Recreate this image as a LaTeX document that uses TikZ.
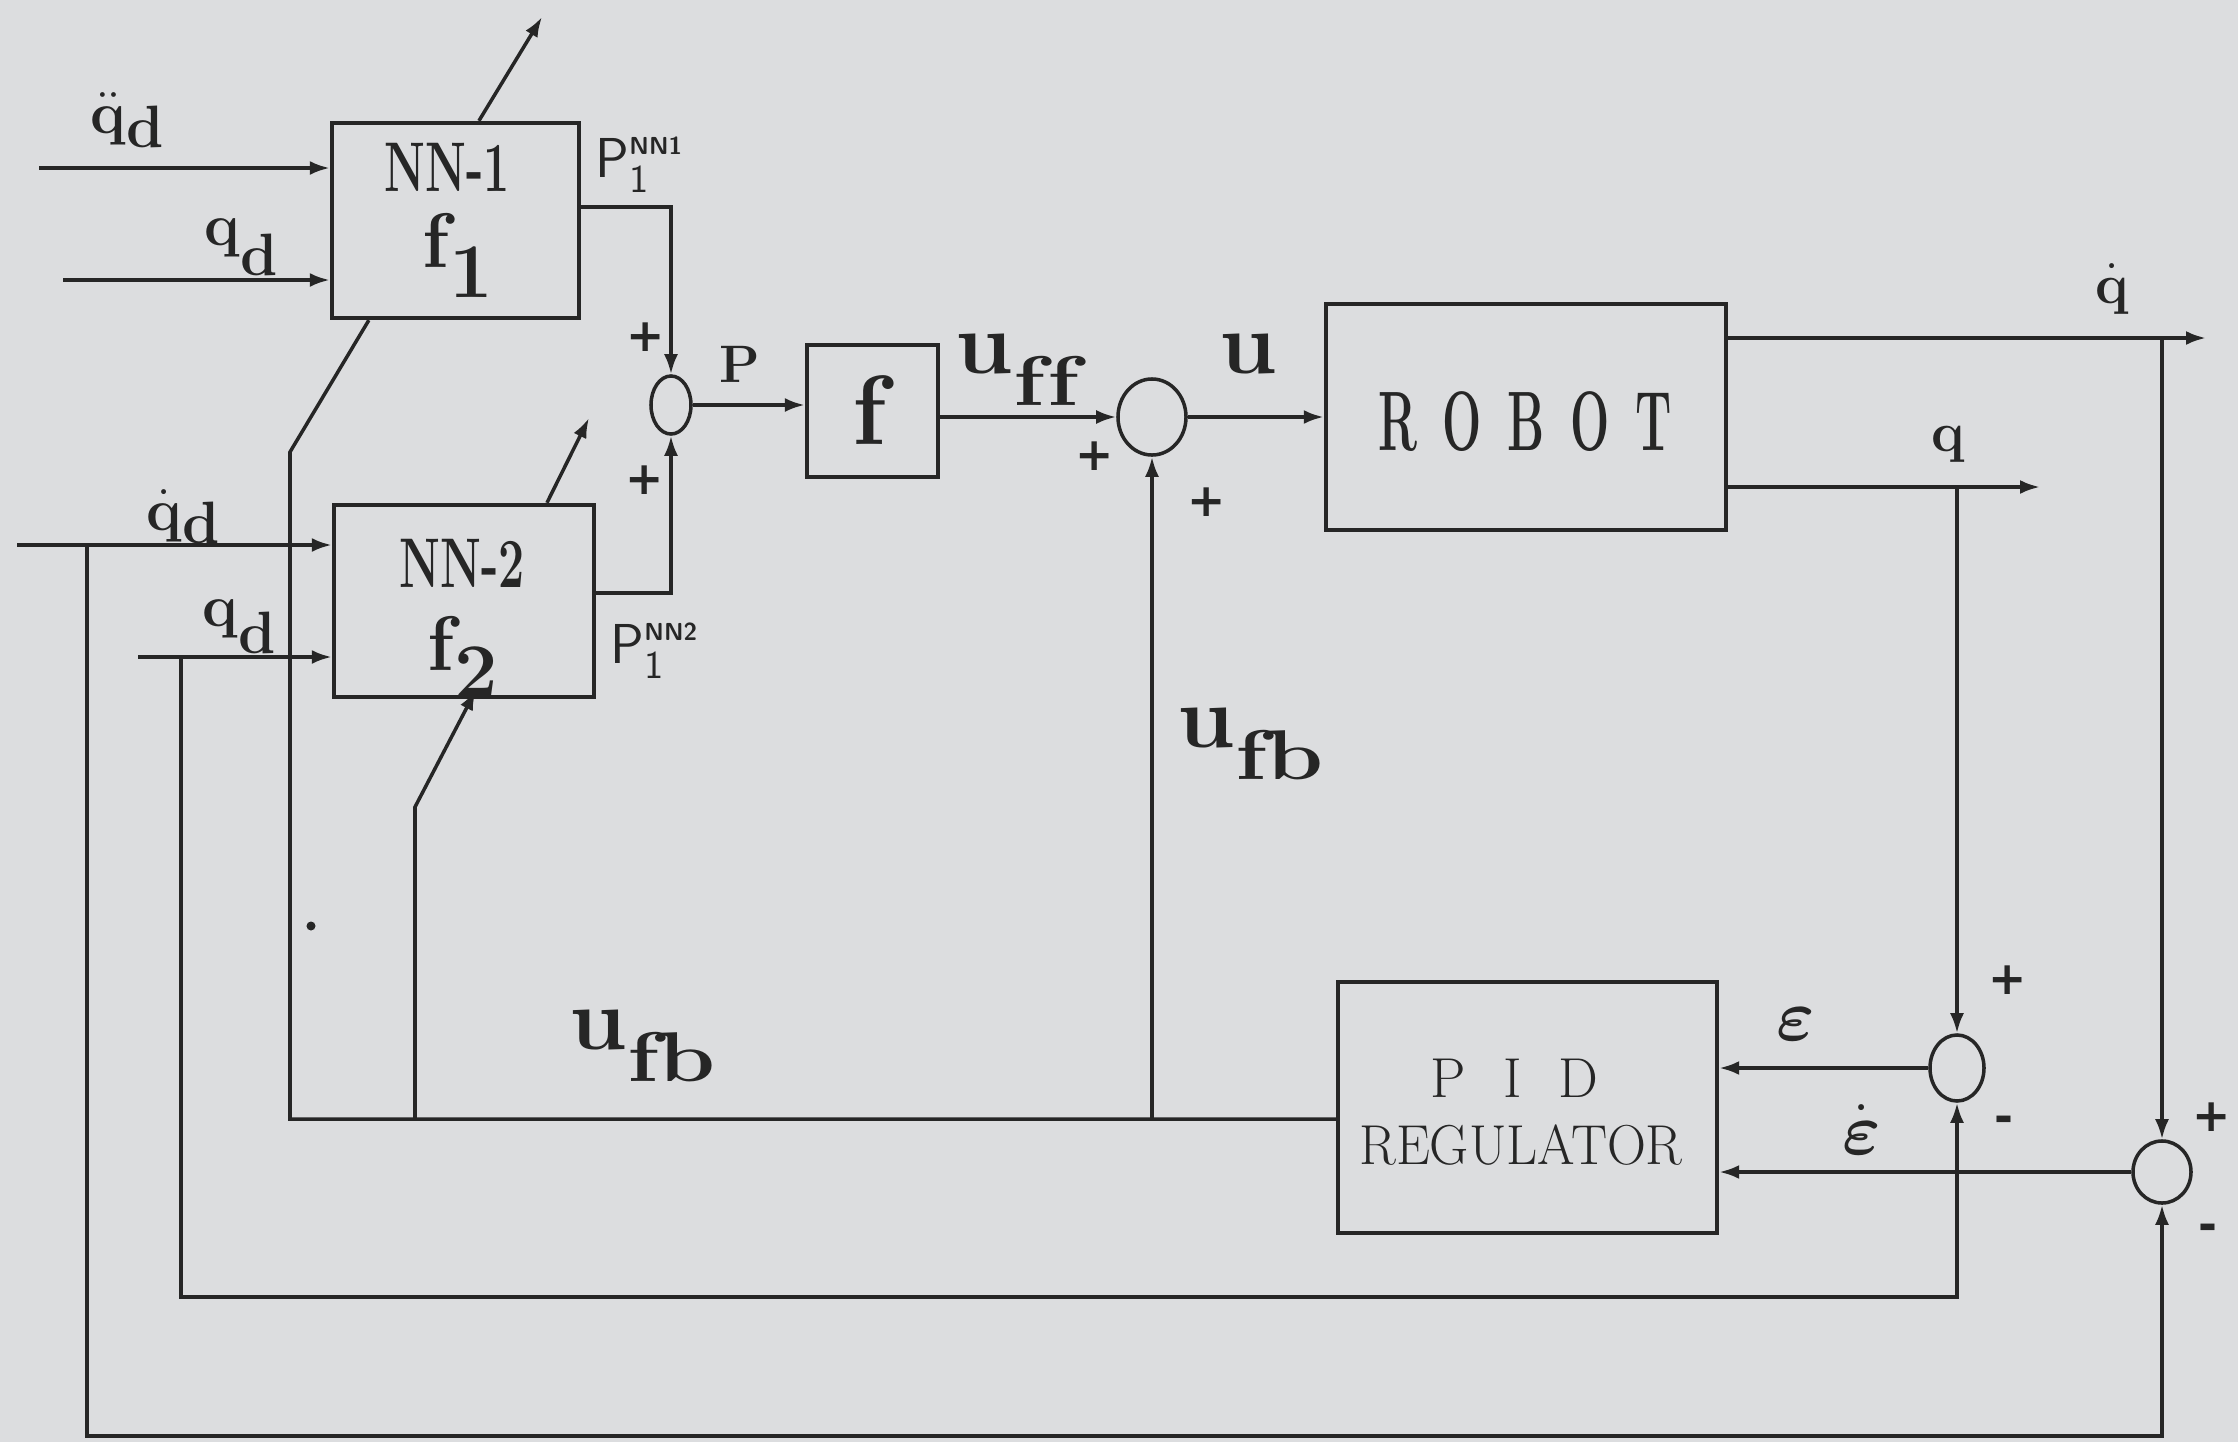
\documentclass[tikz,border=0pt]{standalone}
\usepackage{fontspec}
\usepackage{amsmath}
\usetikzlibrary{shapes.geometric,arrows.meta,calc}
\newfontfamily\djv{DejaVu Sans}
\newcommand{\fsz}[1]{\fontsize{#1}{#1}\selectfont}
\newcommand{\robl}[1]{\makebox[0.64cm]{\scalebox{0.55}[1]{#1}}}
\newcommand{\ulab}[1]{{\fsz{25pt}\scalebox{1.05}[1]{u}}\raisebox{-0.32cm}{\fsz{20pt}\scalebox{1.3}[1]{#1}}}
\definecolor{bg}{RGB}{220,221,223}
\definecolor{ink}{RGB}{38,38,38}
\begin{document}
\begin{tikzpicture}[x=0.01cm,y=-0.01cm,
  line/.style={draw=ink, line width=1pt},
  arr/.style={line, -{Latex[length=0.2cm,width=0.14cm]}},
  blk/.style={draw=ink, line width=1.2pt, rectangle, inner sep=0pt},
  sumj/.style={draw=ink, line width=1pt, ellipse, inner sep=0pt},
  lbl/.style={text=ink, inner sep=0pt},
  qlab/.style={lbl, font=\bfseries\fsz{17pt}},
  ulbl/.style={lbl, font=\bfseries, anchor=base west},
  sgn/.style={lbl, font=\djv\bfseries\fsz{13pt}}]
\fill[bg] (0,0) rectangle (2238,1442);
\useasboundingbox (0,0) rectangle (2238,1442);

% blocks
\node[blk, minimum width=2.47cm, minimum height=1.95cm] (nn1) at (455.5,220.5) {};
\node[blk, minimum width=2.60cm, minimum height=1.92cm] (nn2) at (464,601) {};
\node[blk, minimum width=1.31cm, minimum height=1.32cm] (fbox) at (872.5,411) {};
\node[blk, minimum width=4.00cm, minimum height=2.26cm] (robot) at (1526,417) {};
\node[blk, minimum width=3.79cm, minimum height=2.51cm] (pid) at (1527.5,1107.5) {};

% summing junctions
\node[sumj, minimum width=0.40cm, minimum height=0.58cm] (j1) at (671,405) {};
\node[sumj, minimum width=0.68cm, minimum height=0.76cm] (j2) at (1152,417) {};
\node[sumj, minimum width=0.54cm, minimum height=0.66cm] (j3) at (1957,1068) {};
\node[sumj, minimum width=0.58cm, minimum height=0.62cm] (j4) at (2162,1172) {};

% block texts
\node[lbl, font=\fsz{20pt}\bfseries] (nn1t) at (447,167) {\scalebox{0.66}[1]{NN-1}};
\node[lbl, font=\fsz{22pt}\bfseries, anchor=base west] (nn1f) at (422,267) {f\raisebox{-0.3cm}{1}};
\node[lbl, font=\fsz{20pt}\bfseries] (nn2t) at (462,563) {\scalebox{0.66}[1]{NN-2}};
\node[lbl, font=\fsz{22pt}\bfseries, anchor=base west] (nn2f) at (427,670) {f\raisebox{-0.27cm}{2}};
\node[lbl, font=\fsz{28pt}\bfseries] (ft) at (869,410) {f};
\node[lbl, font=\fsz{24pt}\bfseries] (robt) at (1526,422) {\robl{R}\robl{O}\robl{B}\robl{O}\robl{T}};
\node[lbl, font=\fsz{16pt}] (pidt) at (1513,1078) {\makebox[0.65cm]{P}\makebox[0.65cm]{I}\makebox[0.65cm]{D}};
\node[lbl, font=\fsz{16pt}] (regt) at (1521,1145) {\scalebox{0.96}[1]{REGULATOR}};

% inputs
\coordinate (in1) at (39,168);
\coordinate (in2) at (63,280);
\coordinate (in3) at (17,545);
\coordinate (in4) at (138,657);
\draw[arr] (in1) -- (in1 -| nn1.west);
\draw[arr] (in2) -- (in2 -| nn1.west);
\draw[arr] (in3) -- (in3 -| nn2.west);
\draw[arr] (in4) -- (in4 -| nn2.west);

% NN outputs to first junction
\coordinate (o1) at (579,207);
\coordinate (o2) at (594,593);
\draw[arr] (nn1.east |- o1) -| (j1.north);
\draw[arr] (nn2.east |- o2) -| (j1.south);

% forward path
\draw[arr] (j1.east) -- (j1.east -| fbox.west);
\draw[arr] (fbox.east |- j2.west) -- (j2.west);
\draw[arr] (j2.east) -- (j2.east -| robot.west);

% robot outputs
\coordinate (qdotend) at (2206,338);
\coordinate (qend) at (2040,487);
\draw[arr] (robot.east |- qdotend) -- (qdotend);
\draw[arr] (robot.east |- qend) -- (qend);
\draw[arr] (j3.north |- qend) -- (j3.north);
\draw[arr] (j4.north |- qdotend) -- (j4.north);

% errors to PID
\draw[arr] (j3.west) -- (j3.west -| pid.east);
\draw[arr] (j4.west) -- (j4.west -| pid.east);

% desired signals fed back
\coordinate (b1) at (181,657);
\coordinate (b1d) at (181,1297);
\draw[arr] (b1) -- (b1d) -| (j3.south);
\coordinate (b2) at (87,545);
\coordinate (b2d) at (87,1436);
\draw[arr] (b2) -- (b2d) -| (j4.south);

% PID output u_fb
\coordinate (ufbL) at (290,1119);
\coordinate (bend1) at (290,452);
\draw[line] (pid.west |- ufbL) -- (ufbL) -- (bend1) -- ([xshift=0.39cm]nn1.south west);
\coordinate (t2) at (415,1119);
\coordinate (bend2) at (415,807);
\draw[arr] (t2) -- (bend2) -- ([xshift=1.44cm,yshift=0.09cm]nn2.south west);
\draw[arr] (j2.south |- ufbL) -- (j2.south);

% learning arrows
\coordinate (lr1) at (542,17);
\coordinate (lr2) at (589,418);
\draw[arr] ([xshift=1.49cm]nn1.north west) -- (lr1);
\draw[arr] ([xshift=2.15cm]nn2.north west) -- (lr2);

% stray dot
\fill[ink] (311,926) circle[radius=0.045cm];

% signal labels
\node[qlab, anchor=base west] (lqdd) at (90,133) {$\ddot{\mbox{q}}$\raisebox{-0.14cm}{d}};
\node[qlab, anchor=base west] (lqd1) at (204,245) {q\raisebox{-0.3cm}{d}};
\node[qlab, anchor=base west] (lqdot) at (146,530) {$\dot{\mbox{q}}$\raisebox{-0.13cm}{d}};
\node[qlab, anchor=base west] (lqd2) at (202,626) {q\raisebox{-0.27cm}{d}};
\node[qlab, anchor=base, font=\bfseries\fsz{16pt}] (lqdotout) at (2112,303) {$\dot{\mbox{q}}$};
\node[qlab, anchor=base, font=\bfseries\fsz{16pt}] (lqout) at (1948,451) {q};
\node[qlab, anchor=base, font=\bfseries\fsz{15pt}] (lP) at (740,382) {P};
\node[lbl, font=\fsz{16pt}, anchor=base west] (lp1) at (595,177) {\textsf{P}$_{\textsf{1}}^{\textsf{\bfseries\scriptsize NN1}}$};
\node[lbl, font=\fsz{16pt}, anchor=base west] (lp2) at (610,663) {\textsf{P}$_{\textsf{1}}^{\textsf{\bfseries\scriptsize NN2}}$};
\node[ulbl] (luff) at (955,373) {\ulab{f\kern0.02cm f}};
\node[ulbl] (lufb1) at (1177,747) {\ulab{fb}};
\node[ulbl] (lufb2) at (569,1049) {\ulab{fb}};
\node[lbl, font=\fsz{25pt}\bfseries, anchor=base] (lu) at (1248,373) {\scalebox{1.05}[1]{u}};
\node[lbl, font=\fsz{21pt}, anchor=base] (leps) at (1796,1040) {$\boldsymbol{\varepsilon}$};
\node[lbl, font=\fsz{21pt}, anchor=base] (lepsd) at (1862,1154) {$\dot{\boldsymbol{\varepsilon}}$};

% signs
\node[sgn] (s1) at (646,337) {+};
\node[sgn] (s2) at (645,480) {+};
\node[sgn] (s3) at (1095,456) {+};
\node[sgn] (s4) at (1207,502) {+};
\node[sgn] (s5) at (2008,980) {+};
\node[sgn] (s6) at (2212,1117) {+};
\node[sgn] (m1) at (2004,1124) {-};
\node[sgn] (m2) at (2208,1232) {-};
\end{tikzpicture}
\end{document}
